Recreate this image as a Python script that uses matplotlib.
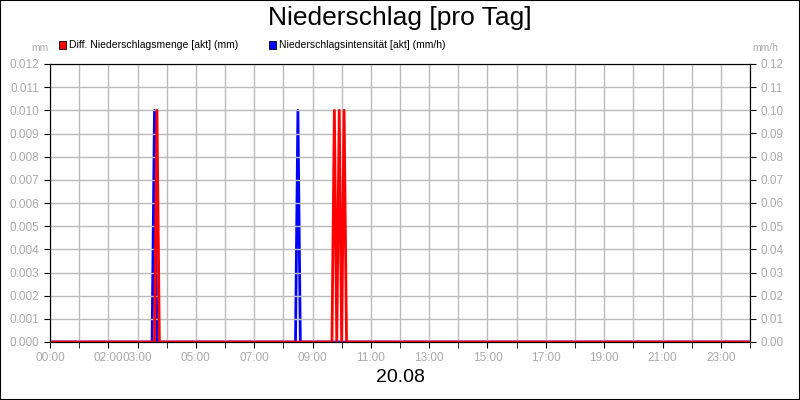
import matplotlib
matplotlib.use("Agg")
import matplotlib.pyplot as plt
from matplotlib.patches import Rectangle

plt.rcParams['font.family'] = ['Liberation Sans', 'DejaVu Sans']

# data (time in hours)
red_t = [0, 3.583, 3.667, 3.75, 9.667, 9.75, 9.833, 9.917, 10.0, 10.083, 10.167, 24]
red_v = [0, 0, 0.01, 0, 0, 0.01, 0, 0.01, 0, 0.01, 0, 0]
blue_t = [0, 3.5, 3.583, 3.667, 8.417, 8.5, 8.583, 24]
blue_v = [0, 0, 0.1, 0, 0, 0.1, 0, 0]
tick_h = [0, 2, 3, 5, 7, 9, 11, 13, 15, 17, 19, 21, 23]
tick_lbl = ["%02d:00" % h for h in tick_h]

W, H = 800, 400
fig = plt.figure(figsize=(8, 4), dpi=100)
fig.patches.append(Rectangle((0, 0), 1, 1, transform=fig.transFigure, fill=False, ec="black", lw=1.5))
ax = fig.add_axes([50 / W, 1 - 342 / H, 700 / W, 278 / H])
ax2 = ax.twinx()
gray = "#aaaaaa"
ax.set_xlim(0, 24)
ax.set_ylim(0, 0.012)
ax2.set_ylim(0, 0.12)
ax.set_yticks([i * 0.001 for i in range(13)])
ax.set_yticklabels(["%.3f" % (i * 0.001) for i in range(13)])
ax2.set_yticks([i * 0.01 for i in range(13)])
ax2.set_yticklabels(["%.2f" % (i * 0.01) for i in range(13)])
ax.set_xticks(range(25), minor=True)
ax.set_xticks(tick_h)
ax.set_xticklabels(tick_lbl)
ax.grid(True, which="both", axis="x", color="#bbbbbb", lw=1)
ax.grid(True, axis="y", color="#bbbbbb", lw=1)
for a in (ax, ax2):
    a.tick_params(labelsize=8.5, labelcolor=gray, color="black", length=4, which="both")
    for s in a.spines.values():
        s.set_color("black")
ax.tick_params(axis="x", which="minor", length=4)
ax2.plot(blue_t, blue_v, color="#0000ff", lw=2)
ax.plot(red_t, red_v, color="#ff0000", lw=2)
ax.set_zorder(ax2.get_zorder() + 1)
ax.patch.set_visible(False)

fig.text(0.5, 1 - 18 / H, "Niederschlag [pro Tag]", ha="center", va="center", fontsize=19)
fig.text(0.5, 1 - 378 / H, "20.08", ha="center", va="center", fontsize=14)
fig.text(40 / W, 1 - 48 / H, "mm", ha="center", va="center", fontsize=7.5, color=gray)
fig.text(765 / W, 1 - 48 / H, "mm/h", ha="center", va="center", fontsize=7.5, color=gray)
for x0, col, lbl in [(59, "#ff0000", "Diff. Niederschlagsmenge [akt] (mm)"),
                     (269, "#0000ff", "Niederschlagsintensität [akt] (mm/h)")]:
    fig.patches.append(Rectangle((x0 / W, 1 - 49 / H), 7 / W, 8 / H, transform=fig.transFigure,
                                 fc=col, ec="black", lw=0.6))
    fig.text((x0 + 10) / W, 1 - 45 / H, lbl, ha="left", va="center", fontsize=7.5)
fig.savefig("out.png", dpi=100)
